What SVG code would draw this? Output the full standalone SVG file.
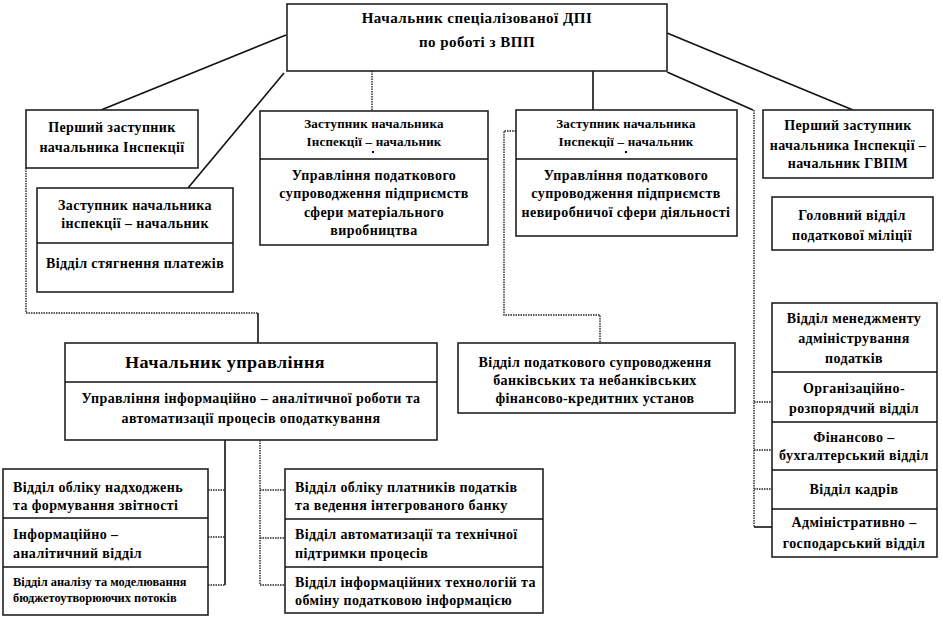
<svg xmlns="http://www.w3.org/2000/svg" width="943" height="619" viewBox="0 0 943 619">
<style>
.b{fill:#fff;stroke:#222;stroke-width:1.6}
.t{font-family:"Liberation Serif","Times New Roman",serif;font-weight:bold;font-size:14px;letter-spacing:0.4px;fill:#000;text-anchor:middle}
.tl{font-family:"Liberation Serif","Times New Roman",serif;font-weight:bold;font-size:14px;letter-spacing:0.4px;fill:#000;text-anchor:start}
.h{font-size:13px;letter-spacing:0.2px}
.sm{font-size:12.4px;letter-spacing:0}
.s{stroke:#111;stroke-width:1.6;fill:none}
.o{stroke:#222;stroke-width:1.4;fill:none;stroke-dasharray:1.5 1}
</style>
<rect width="943" height="619" fill="#fff"/>
<g id="connectors">
<line class="s" x1="286" y1="35" x2="101" y2="110"/>
<line class="s" x1="284" y1="73" x2="188" y2="188"/>
<line class="o" x1="372" y1="71" x2="372" y2="111"/>
<line class="s" x1="593" y1="71" x2="593" y2="110"/>
<line class="s" x1="667" y1="33" x2="853" y2="110"/>
<polyline class="s" points="667,72 753,110"/>
<polyline class="o" points="754,110 754,527"/>
<line class="o" x1="754" y1="402" x2="772" y2="402"/>
<line class="o" x1="754" y1="450" x2="772" y2="450"/>
<line class="o" x1="754" y1="489" x2="772" y2="489"/>
<line class="s" x1="754" y1="527" x2="772" y2="527"/>
<polyline class="o" points="516,131 504,131 504,315 600,315 600,343"/>
<polyline class="o" points="26,168 26,313 258,313"/>
<line class="s" x1="258" y1="313" x2="258" y2="343"/>
<line class="s" x1="225" y1="440" x2="225" y2="585"/>
<line class="o" x1="208" y1="490" x2="225" y2="490"/>
<line class="o" x1="208" y1="537" x2="225" y2="537"/>
<line class="o" x1="208" y1="585" x2="225" y2="585"/>
<polyline class="o" points="260,440 260,585 285,585"/>
<line class="o" x1="260" y1="490" x2="285" y2="490"/>
<line class="o" x1="260" y1="538" x2="285" y2="538"/>
</g>
<g id="top">
<rect class="b" x="287" y="4" width="380" height="67"/>
<text class="t" x="477" y="23" style="font-size:15px;letter-spacing:0.5px">Начальник спеціалізованої ДПІ</text>
<text class="t" x="477" y="47" style="font-size:15px;letter-spacing:0.5px">по роботі з ВПП</text>
</g>
<g id="first-deputy">
<rect class="b" x="26" y="110" width="172" height="58"/>
<text class="t" x="112" y="132">Перший заступник</text>
<text class="t" x="112" y="152">начальника Інспекції</text>
</g>
<g id="deputy-collection">
<rect class="b" x="37" y="188" width="196" height="104"/>
<text class="t" x="135" y="210">Заступник начальника</text>
<text class="t" x="135" y="228">інспекції  – начальник</text>
<line class="s" x1="37" y1="243" x2="233" y2="243"/>
<text class="t" x="135" y="268">Відділ  стягнення платежів</text>
</g>
<g id="deputy-material">
<rect class="b" x="260" y="111" width="228" height="134"/>
<text class="t h" x="374" y="128">Заступник начальника</text>
<text class="t h" x="374" y="146">Інспекції  –  начальник</text>
<rect x="372" y="151" width="2" height="2" fill="#000"/>
<line class="s" x1="260" y1="159" x2="488" y2="159"/>
<text class="t" x="374" y="180">Управління податкового</text>
<text class="t" x="374" y="198">супроводження підприємств</text>
<text class="t" x="374" y="217">сфери матеріального</text>
<text class="t" x="374" y="235">виробництва</text>
</g>
<g id="deputy-nonproduction">
<rect class="b" x="516" y="110" width="221" height="126"/>
<text class="t h" x="626" y="128">Заступник начальника</text>
<text class="t h" x="626" y="146">Інспекції  – начальник</text>
<rect x="625" y="151" width="2" height="2" fill="#000"/>
<line class="s" x1="516" y1="159" x2="737" y2="159"/>
<text class="t" x="626" y="180">Управління податкового</text>
<text class="t" x="626" y="198">супроводження підприємств</text>
<text class="t" x="626" y="217">невиробничої сфери діяльності</text>
</g>
<g id="first-deputy-gvpm">
<rect class="b" x="763" y="110" width="170" height="68"/>
<text class="t" x="848" y="130">Перший заступник</text>
<text class="t" x="848" y="150">начальника Інспекції –</text>
<text class="t" x="848" y="168">начальник ГВПМ</text>
</g>
<g id="tax-police">
<rect class="b" x="772" y="197" width="161" height="53"/>
<text class="t" x="852" y="220">Головний відділ</text>
<text class="t" x="852" y="240">податкової міліції</text>
</g>
<g id="head-department">
<rect class="b" x="65" y="343" width="372" height="97"/>
<text class="t" x="225" y="368" style="font-size:17px" textLength="200" lengthAdjust="spacingAndGlyphs">Начальник управління</text>
<line class="s" x1="65" y1="382" x2="437" y2="382"/>
<text class="t" x="251" y="403">Управління інформаційно – аналітичної  роботи та</text>
<text class="t" x="251" y="423">автоматизації процесів  оподаткування</text>
</g>
<g id="bank-dept">
<rect class="b" x="458" y="343" width="277" height="70"/>
<text class="t" x="595" y="367">Відділ  податкового супроводження</text>
<text class="t" x="595" y="385">банківських  та небанківських</text>
<text class="t" x="595" y="403">фінансово-кредитних  установ</text>
</g>
<g id="right-stack">
<rect class="b" x="772" y="303" width="165" height="254"/>
<text class="t" x="854" y="323">Відділ  менеджменту</text>
<text class="t" x="854" y="343">адміністрування</text>
<text class="t" x="854" y="363">податків</text>
<line class="s" x1="772" y1="372" x2="937" y2="372"/>
<text class="t" x="854" y="393">Організаційно-</text>
<text class="t" x="854" y="413">розпорядчий відділ</text>
<line class="s" x1="772" y1="422" x2="937" y2="422"/>
<text class="t" x="854" y="442">Фінансово –</text>
<text class="t" x="854" y="460">бухгалтерський  відділ</text>
<line class="s" x1="772" y1="470" x2="937" y2="470"/>
<text class="t" x="854" y="494">Відділ  кадрів</text>
<line class="s" x1="772" y1="509" x2="937" y2="509"/>
<text class="t" x="854" y="527">Адміністративно –</text>
<text class="t" x="854" y="548">господарський відділ</text>
</g>
<g id="left-stack">
<rect class="b" x="3" y="469" width="205" height="146"/>
<text class="tl" x="13" y="492">Відділ  обліку  надходжень</text>
<text class="tl" x="13" y="510">та формування  звітності</text>
<line class="s" x1="3" y1="518" x2="208" y2="518"/>
<text class="tl" x="13" y="539">Інформаційно –</text>
<text class="tl" x="13" y="558">аналітичний відділ</text>
<line class="s" x1="3" y1="567" x2="208" y2="567"/>
<text class="tl sm" x="13" y="586">Відділ  аналізу та моделювання</text>
<text class="tl sm" x="13" y="602">бюджетоутворюючих  потоків</text>
</g>
<g id="right-lower-stack">
<rect class="b" x="285" y="469" width="258" height="144"/>
<text class="tl" x="295" y="492">Відділ  обліку  платників податків</text>
<text class="tl" x="295" y="510">та ведення інтегрованого банку</text>
<line class="s" x1="285" y1="519" x2="543" y2="519"/>
<text class="tl" x="295" y="539">Відділ  автоматизації та технічної</text>
<text class="tl" x="295" y="558">підтримки процесів</text>
<line class="s" x1="285" y1="567" x2="543" y2="567"/>
<text class="tl" x="295" y="587">Відділ інформаційних технологій та</text>
<text class="tl" x="295" y="605">обміну податковою інформацією</text>
</g>
</svg>
